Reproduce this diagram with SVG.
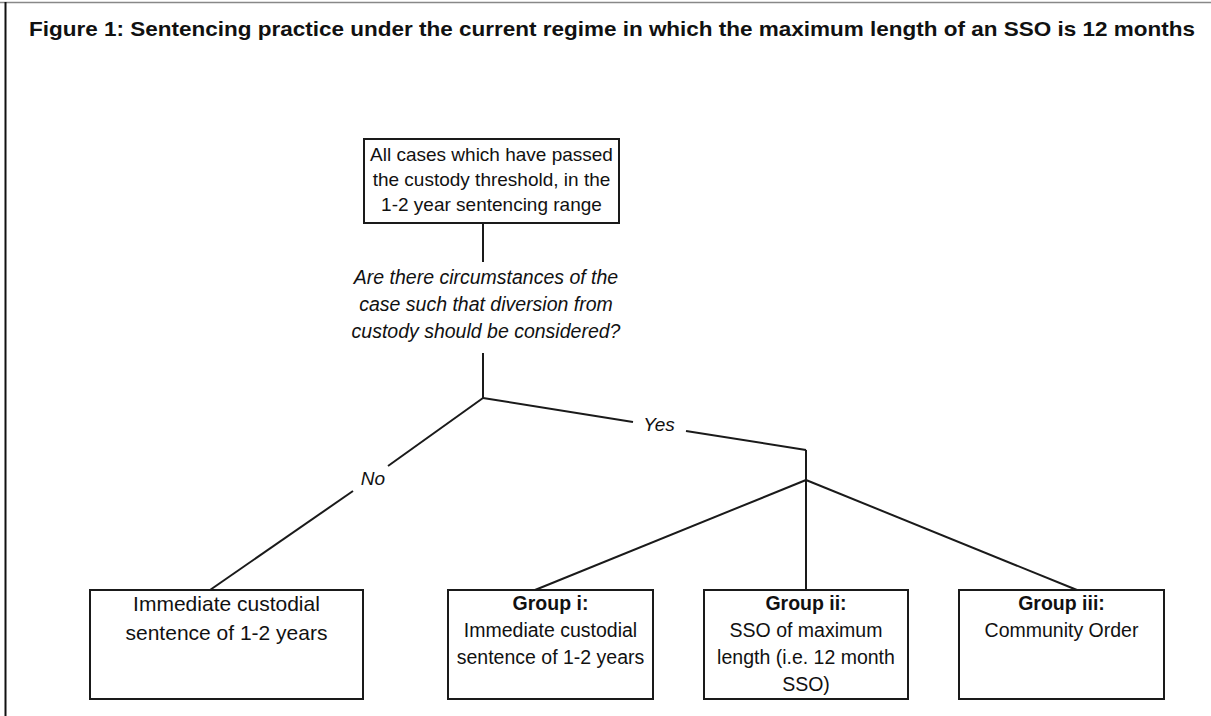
<svg xmlns="http://www.w3.org/2000/svg" width="1211" height="716" viewBox="0 0 1211 716">
<style>
.box{fill:#fff;stroke:#1a1a1a;stroke-width:2}
.con{stroke:#1a1a1a;stroke-width:2;fill:none}
.t{font-family:"Liberation Sans",Arial,sans-serif;fill:#111;text-anchor:middle}
.i{font-style:italic}
.b{font-weight:bold}
</style>
<rect width="1211" height="716" fill="#fff"/>
<g id="frame">
<line x1="0" y1="2.5" x2="1211" y2="2.5" stroke="#888" stroke-width="1.5"/>
<line x1="5.5" y1="2" x2="5.5" y2="716" stroke="#111" stroke-width="2"/>
</g>
<text id="title" class="t b" x="612" y="36" font-size="21" textLength="1166" lengthAdjust="spacingAndGlyphs">Figure 1: Sentencing practice under the current regime in which the maximum length of an SSO is 12 months</text>
<g id="connectors">
<line class="con" x1="483" y1="223" x2="483" y2="262"/>
<line class="con" x1="483" y1="353" x2="483" y2="398"/>
<line class="con" x1="483" y1="398" x2="633" y2="422"/>
<line class="con" x1="686" y1="431" x2="806" y2="450"/>
<line class="con" x1="806" y1="450" x2="806" y2="480"/>
<line class="con" x1="483" y1="398" x2="388" y2="466"/>
<line class="con" x1="353" y1="491" x2="210" y2="590"/>
<line class="con" x1="806" y1="480" x2="535" y2="590"/>
<line class="con" x1="806" y1="480" x2="806" y2="590"/>
<line class="con" x1="806" y1="480" x2="1077" y2="590"/>
<text class="t i" x="659" y="431" font-size="19">Yes</text>
<text class="t i" x="373" y="485" font-size="19">No</text>
</g>
<g id="top">
<rect class="box" x="364" y="139" width="255" height="84"/>
<text class="t" font-size="19"><tspan x="491.5" y="161">All cases which have passed</tspan><tspan x="491.5" y="186">the custody threshold, in the</tspan><tspan x="491.5" y="211">1-2 year sentencing range</tspan></text>
</g>
<g id="question">
<text class="t i" font-size="19.5"><tspan x="486" y="284">Are there circumstances of the</tspan><tspan x="486" y="311">case such that diversion from</tspan><tspan x="486" y="338">custody should be considered?</tspan></text>
</g>
<g id="no-outcome">
<rect class="box" x="90" y="590" width="273" height="109"/>
<text class="t" font-size="21"><tspan x="226.5" y="611">Immediate custodial</tspan><tspan x="226.5" y="640">sentence of 1-2 years</tspan></text>
</g>
<g id="group-i">
<rect class="box" x="448" y="590" width="205" height="109"/>
<text class="t" font-size="19.5"><tspan class="b" x="550.5" y="610">Group i:</tspan><tspan x="550.5" y="637">Immediate custodial</tspan><tspan x="550.5" y="664">sentence of 1-2 years</tspan></text>
</g>
<g id="group-ii">
<rect class="box" x="704" y="590" width="204" height="109"/>
<text class="t" font-size="19.5"><tspan class="b" x="806" y="610">Group ii:</tspan><tspan x="806" y="637">SSO of maximum</tspan><tspan x="806" y="664">length (i.e. 12 month</tspan><tspan x="806" y="691">SSO)</tspan></text>
</g>
<g id="group-iii">
<rect class="box" x="959" y="590" width="205" height="109"/>
<text class="t" font-size="19.5"><tspan class="b" x="1061.5" y="610">Group iii:</tspan><tspan x="1061.5" y="637">Community Order</tspan></text>
</g>
</svg>
